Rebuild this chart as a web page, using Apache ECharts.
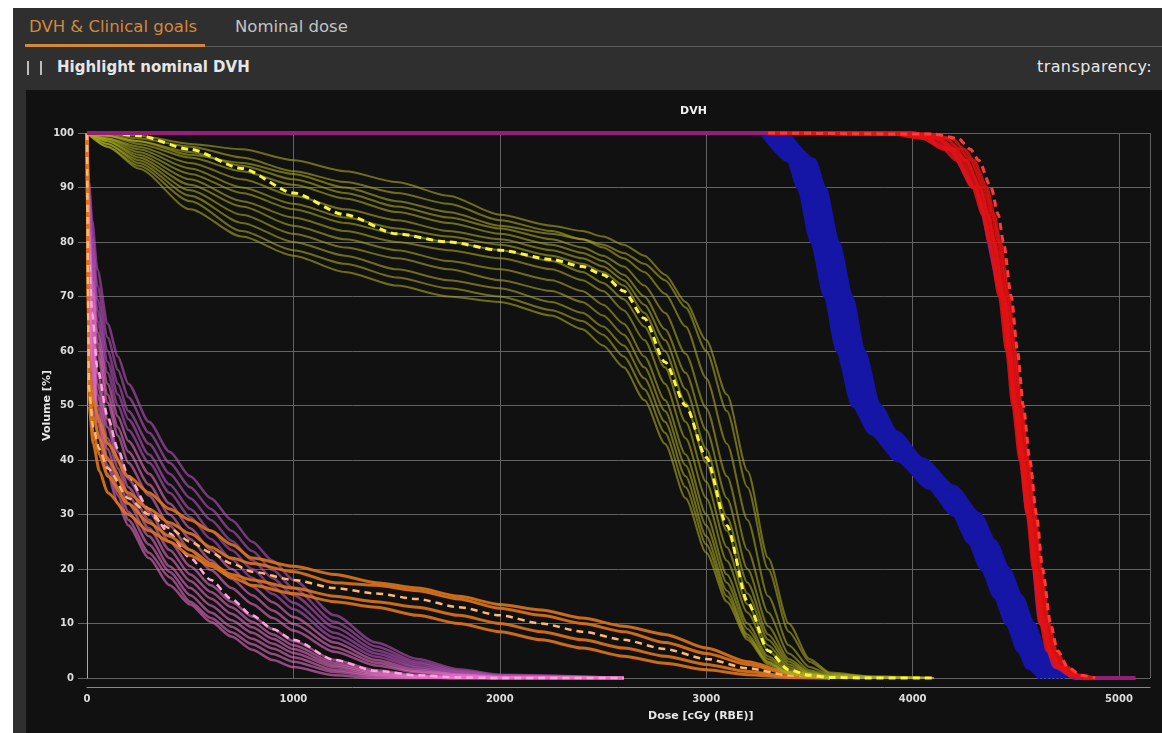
<!DOCTYPE html>
<html>
<head>
<meta charset="utf-8">
<script src="https://cdn.jsdelivr.net/npm/echarts/dist/echarts.min.js"></script>
<style>
  html, body { margin:0; padding:0; width:1162px; height:733px; background:#ffffff; overflow:hidden; font-family:"DejaVu Sans", sans-serif; }
  .abs { position:absolute; white-space:nowrap; }
</style>
</head>
<body>
<div class="abs" style="left:13px;top:8px;width:1149px;height:725px;background:#2f2f2f;"></div>
<div class="abs" style="left:29px;top:17px;color:#d4893a;font-size:16.5px;">DVH &amp; Clinical goals</div>
<div class="abs" style="left:25px;top:44px;width:180px;height:3px;background:#d4893a;"></div>
<div class="abs" style="left:205px;top:46px;width:957px;height:1px;background:#5c5c5c;"></div>
<div class="abs" style="left:235px;top:17px;color:#c4c4c4;font-size:16.5px;">Nominal dose</div>
<div class="abs" style="left:27px;top:61px;width:11px;height:14px;border-left:2px solid #bdbdbd;border-right:2px solid #bdbdbd;"></div>
<div class="abs" style="left:57px;top:58px;color:#e6e6e6;font-size:15px;font-weight:bold;">Highlight nominal DVH</div>
<div class="abs" style="left:1037px;top:57px;color:#e6e6e6;font-size:16px;letter-spacing:0.4px;">transparency:</div>
<div id="chart" class="abs" style="left:26px;top:90px;width:1136px;height:643px;background:#111111;"></div>
<script>
// ---------------- DATA ----------------
const xTicks = [0, 1000, 2000, 3000, 4000, 5000];
const yTicks = [0, 10, 20, 30, 40, 50, 60, 70, 80, 90, 100];

// Pink structure (dose grid in cGy, volumes in %)
const pinkDose = [0, 10, 25, 50, 100, 150, 200, 300, 400, 500, 600, 700, 800, 900, 1000, 1200, 1400, 1600, 1800, 2000, 2600];
const pinkCurves = [
  [100, 91, 84, 75, 65, 59, 54, 47, 41.5, 37, 33, 29, 25, 21.5, 18, 11.5, 6.5, 3.5, 1.6, 0.6, 0],
  [100, 89, 81, 72, 62.5, 56.5, 51.5, 45, 39.5, 35, 31, 27, 23.3, 19.8, 16.5, 10.3, 5.8, 3, 1.3, 0.5, 0],
  [100, 87, 79, 69.5, 60, 54, 49, 43, 37.5, 33, 29, 25.2, 21.6, 18.3, 15.2, 9.3, 5.1, 2.6, 1.1, 0.4, 0],
  [100, 86, 77, 67.5, 58, 52, 47.5, 41, 35.5, 31, 27, 23.5, 20, 16.8, 13.8, 8.3, 4.5, 2.2, 0.9, 0.3, 0],
  [100, 84, 75, 65.5, 56, 50, 45.5, 39.5, 34, 29.5, 25.5, 21.8, 18.4, 15.4, 12.6, 7.4, 3.9, 1.9, 0.7, 0.2, 0],
  [100, 82, 73, 63.5, 54, 48, 43.5, 37.5, 32, 27.5, 23.5, 20, 16.8, 13.9, 11.2, 6.5, 3.3, 1.5, 0.6, 0.2, 0],
  [100, 80, 71, 61.5, 52, 46, 41.5, 35.5, 30, 25.5, 21.6, 18.2, 15.2, 12.4, 9.9, 5.6, 2.8, 1.2, 0.5, 0.1, 0],
  [100, 78, 69, 59.5, 50.5, 44.5, 39.5, 33.5, 28, 23.5, 19.8, 16.5, 13.6, 11, 8.7, 4.8, 2.3, 1, 0.4, 0.1, 0],
  [100, 77, 66, 56, 47.5, 41.5, 36.5, 30.5, 25, 20.5, 17, 14, 11.3, 9, 6.8, 3.3, 1.4, 0.5, 0.2, 0, 0],
  [100, 75, 64, 54, 46, 40, 35, 29, 23.5, 19, 15.8, 13, 10.3, 8, 6, 2.8, 1.1, 0.4, 0.1, 0, 0],
  [100, 73, 62, 52, 44, 38.5, 33.5, 27.5, 22, 17.8, 14.6, 11.8, 9.3, 7.2, 5.3, 2.4, 0.9, 0.3, 0.1, 0, 0],
  [100, 71, 60, 50, 42, 36.5, 32, 26, 20.5, 16.5, 13.3, 10.6, 8.3, 6.3, 4.6, 2, 0.7, 0.2, 0, 0, 0],
  [100, 69, 58, 48.5, 40.5, 35, 30.5, 24.5, 19.5, 15.2, 12, 9.4, 7.2, 5.4, 3.8, 1.5, 0.5, 0.1, 0, 0, 0],
  [100, 68, 56, 47, 39, 33.5, 29, 23, 18.5, 14, 11, 8.4, 6.2, 4.4, 3, 1.1, 0.3, 0.1, 0, 0, 0],
  [100, 66, 54, 45, 37.5, 32, 28, 22, 17, 13.5, 10.3, 7.6, 5.2, 3.3, 2, 0.5, 0, 0, 0, 0, 0]
];
const pinkNominal = [100, 77, 67, 57, 48, 42, 37, 31, 26.5, 22, 18, 14.5, 11.5, 9, 7, 3.3, 1.3, 0.5, 0.1, 0, 0];

// Orange structure
const orangeDose = [0, 10, 30, 60, 100, 200, 300, 400, 500, 600, 700, 800, 1000, 1200, 1400, 1600, 1800, 2000, 2200, 2400, 2600, 2800, 3000, 3200, 3400, 3600];
const orangeCurves = [
  [100, 56, 51, 47, 43, 37, 34, 31, 29, 27, 24.5, 22, 20.5, 19, 17.5, 16.5, 15, 13.5, 12.5, 11, 9.5, 8, 5.5, 3, 1, 0],
  [100, 54, 48, 44, 40, 34, 31, 28.5, 26.5, 24, 22, 21, 19.5, 17.5, 17, 16, 14.5, 12.8, 11.5, 10, 8.5, 6.5, 4.5, 2.5, 0.8, 0],
  [100, 52, 45, 41, 37, 32, 28.5, 26, 23.5, 21, 19, 18, 16.5, 15, 14, 13, 11.5, 10, 8.5, 7, 5.5, 4, 2.5, 1.2, 0.3, 0],
  [100, 50, 43, 38, 34, 30, 27, 25, 22.5, 20.5, 18.5, 17, 15.5, 14, 13, 11.5, 10, 8.5, 7, 5.5, 4, 2.7, 1.5, 0.6, 0.1, 0]
];
const orangeNominal = [100, 53, 46, 42, 38.5, 33, 30, 27.5, 25, 23, 21, 19.5, 18, 16.5, 15.5, 14.5, 13, 11.5, 10, 8.5, 7, 5.3, 3.5, 1.8, 0.5, 0];

// Yellow structure
const yellowDose = [0, 100, 250, 500, 750, 1000, 1250, 1500, 1750, 2000, 2250, 2400, 2500, 2600, 2700, 2800, 2900, 3000, 3100, 3200, 3300, 3400, 3500, 3600, 3800, 4100];
const yellowCurves = [
  [100, 100, 99.5, 98, 97, 95, 93, 91, 88.5, 85, 83, 82, 81, 79.5, 77.5, 74, 69, 62, 52, 38, 22, 10, 3.5, 1, 0.3, 0],
  [100, 99.8, 99, 97.5, 95.5, 93, 91, 89, 87, 84, 82, 80.5, 79, 77, 74.5, 70.5, 64.5, 55, 43, 29, 15, 6, 2, 0.6, 0.2, 0],
  [100, 99.5, 98.5, 96.5, 94, 91.5, 89, 86.5, 84.5, 82.5, 80.5, 79, 77.5, 75.5, 72, 67, 59.5, 49.5, 37, 23.5, 12, 4.5, 1.4, 0.4, 0.1, 0],
  [100, 99.5, 98, 95.5, 93, 90.5, 88, 85.5, 83.5, 81.5, 79.5, 78, 76.5, 74, 70, 64, 56, 45.5, 33, 20, 9.5, 3.5, 1.1, 0.3, 0.1, 0],
  [100, 99, 97.5, 94.5, 91.5, 88.5, 86, 84, 82, 80.5, 78.5, 77, 75.5, 73, 68.5, 62, 53, 42, 29.5, 17.5, 8, 3, 0.9, 0.3, 0, 0],
  [100, 99, 97, 93.5, 90, 87, 84.5, 82.5, 81, 79.5, 77.5, 76, 74.5, 72, 67, 60, 50.5, 39.5, 27, 15.5, 7, 2.5, 0.8, 0.2, 0, 0],
  [100, 98.8, 96.5, 92.5, 89, 86, 83.5, 81.5, 80, 78.5, 76.5, 74.5, 72.5, 69.5, 64.5, 57, 47, 36, 24, 13.5, 6, 2, 0.6, 0.2, 0, 0],
  [100, 98.5, 96, 91.5, 87.5, 84.5, 82, 80, 78.5, 77, 75, 73, 71, 67.5, 62, 54, 44, 33, 21.5, 12, 5, 1.6, 0.5, 0.1, 0, 0],
  [100, 98.5, 95.5, 90.5, 86.5, 83, 80.5, 78.5, 76.5, 75, 73, 71, 68.5, 65, 59, 51, 41, 30, 19, 10, 4, 1.3, 0.4, 0.1, 0, 0],
  [100, 98, 95, 89.5, 85, 81.5, 79, 77, 75, 73, 71, 69, 66.5, 63, 57, 49, 39, 28, 17.5, 9, 3.5, 1.1, 0.3, 0.1, 0, 0],
  [100, 98, 94.5, 88.5, 83.5, 80, 77.5, 75, 73, 71.5, 69, 67, 64.5, 61, 55, 47, 37, 26, 16, 8, 3, 0.9, 0.3, 0.1, 0, 0],
  [100, 97.5, 94, 87.5, 82, 78.5, 76, 73.5, 71.5, 70, 67.5, 65.5, 63, 59, 53, 45, 35, 24.5, 15, 7.5, 2.8, 0.8, 0.2, 0, 0, 0],
  [100, 97.5, 93.5, 86, 81, 77.5, 74.5, 72, 70, 69, 66.5, 64, 61, 57, 51, 43, 33, 23, 14, 7, 2.5, 0.8, 0.2, 0, 0, 0],
  [100, 99.5, 98.5, 96, 94.5, 92.5, 90, 87.5, 85.5, 83, 81.5, 80.5, 79.5, 78, 76, 73, 68, 60, 49, 35, 20, 8.5, 3, 0.8, 0.2, 0]
];
const yellowNominal = [100, 100, 99.5, 97, 93.5, 89, 85, 81.5, 80, 78.5, 76.8, 75.5, 74, 71, 66, 58, 50, 40.5, 28, 14, 5, 1.5, 0.5, 0.1, 0, 0];

// Blue structure: dose (cGy) reached at each volume level
const blueLevels = [100, 95, 90, 80, 70, 60, 50, 45, 40, 35, 30, 25, 20, 15, 10, 5, 2, 0];
const blueCurves = [
  [3270, 3400, 3450, 3515, 3580, 3640, 3715, 3800, 3930, 4080, 4200, 4276, 4340, 4402, 4460, 4518, 4560, 4620],
  [3290, 3420, 3470, 3535, 3600, 3660, 3735, 3820, 3950, 4100, 4220, 4296, 4360, 4422, 4480, 4538, 4580, 4640],
  [3310, 3440, 3490, 3555, 3620, 3680, 3755, 3840, 3970, 4120, 4240, 4316, 4380, 4442, 4500, 4558, 4600, 4660],
  [3330, 3460, 3510, 3575, 3640, 3700, 3775, 3860, 3990, 4140, 4260, 4336, 4400, 4462, 4520, 4578, 4620, 4680],
  [3350, 3480, 3530, 3595, 3660, 3720, 3795, 3880, 4010, 4160, 4280, 4356, 4420, 4482, 4540, 4598, 4640, 4700],
  [3370, 3500, 3550, 3615, 3680, 3740, 3815, 3900, 4030, 4180, 4300, 4376, 4440, 4502, 4560, 4618, 4660, 4720],
  [3390, 3520, 3570, 3635, 3700, 3760, 3835, 3920, 4050, 4200, 4320, 4396, 4460, 4522, 4580, 4638, 4680, 4740]
];

// Purple structure
const purpleLevels = [100, 100, 97, 90, 70, 50, 30, 10, 2, 0, 0];
const purpleDose = [0, 4000, 4180, 4300, 4440, 4500, 4560, 4620, 4690, 4790, 5080];

// Red structure: dose (cGy) reached at each volume level
const redLevels = [100, 99.8, 99, 97, 95, 90, 85, 80, 70, 60, 50, 40, 30, 20, 10, 5, 2, 0.5, 0];
const redCurves = [
  [3300, 3900, 4050, 4150, 4210, 4290, 4340, 4370, 4420, 4455, 4485, 4520, 4555, 4585, 4620, 4650, 4700, 4770, 4840],
  [3300, 3950, 4100, 4190, 4240, 4310, 4355, 4390, 4435, 4468, 4498, 4532, 4566, 4596, 4632, 4664, 4712, 4780, 4850],
  [3300, 4000, 4130, 4210, 4260, 4330, 4370, 4400, 4445, 4478, 4508, 4542, 4575, 4605, 4642, 4675, 4722, 4790, 4860],
  [3300, 4050, 4160, 4230, 4280, 4345, 4385, 4415, 4455, 4488, 4518, 4552, 4585, 4615, 4652, 4686, 4735, 4800, 4870],
  [3300, 3980, 4120, 4200, 4255, 4325, 4365, 4395, 4440, 4472, 4502, 4537, 4570, 4600, 4637, 4670, 4718, 4785, 4855],
  [3300, 4080, 4190, 4250, 4295, 4360, 4395, 4425, 4465, 4497, 4527, 4560, 4593, 4623, 4660, 4695, 4745, 4810, 4880],
  [3300, 3920, 4070, 4170, 4225, 4300, 4345, 4380, 4428, 4462, 4492, 4526, 4560, 4590, 4626, 4658, 4706, 4775, 4845]
];
const redNominal = [3300, 4100, 4220, 4280, 4320, 4380, 4415, 4440, 4478, 4508, 4536, 4568, 4600, 4630, 4668, 4702, 4752, 4815, 4885];

// ---------------- BUILD ----------------
const series = [];
function byDose(doses, vols) { return doses.map((d, i) => [d, vols[i]]); }
function byLevel(doses, levels) { return doses.map((d, i) => [d, levels[i]]); }
function addLine(pts, color, width, dashed, z) {
  series.push({
    type: 'line', data: pts, symbol: 'none', showSymbol: false, silent: true,
    smooth: 0.25, smoothMonotone: 'x', clip: false, z: z,
    lineStyle: { color: color, width: width, type: dashed ? [7, 5] : 'solid', cap: 'butt', join: 'round' }
  });
}
pinkCurves.forEach((c, i) => addLine(byDose(pinkDose, c), i < 5 ? 'rgba(175,80,180,0.65)' : 'rgba(232,112,200,0.6)', 2.5, false, 2));
addLine(byDose(pinkDose, pinkNominal), '#ffa6e0', 2.5, true, 3);
orangeCurves.forEach(c => addLine(byDose(orangeDose, c), 'rgba(222,118,28,0.9)', 3, false, 4));
addLine(byDose(orangeDose, orangeNominal), '#ffb870', 2.5, true, 5);
yellowCurves.forEach(c => addLine(byDose(yellowDose, c), 'rgba(168,168,32,0.62)', 2, false, 6));
addLine(byDose(yellowDose, yellowNominal), '#f6f640', 3, true, 7);
blueCurves.forEach(c => addLine(byLevel(c, blueLevels), '#1515a6', 5, false, 8));
addLine(byLevel(purpleDose, purpleLevels), '#951f78', 4, false, 9);
redCurves.forEach(c => addLine(byLevel(c, redLevels), 'rgba(228,18,18,0.85)', 3, false, 10));
addLine(byLevel(redNominal, redLevels), '#ff3a3a', 3, true, 11);

const FONT = '"DejaVu Sans", sans-serif';
const labelStyle = { color: '#dcdcdc', fontSize: 10, fontWeight: 'bold', fontFamily: FONT };
const chart = echarts.init(document.getElementById('chart'), null, { renderer: 'canvas' });
chart.setOption({
  backgroundColor: '#111111',
  animation: false,
  title: { text: 'DVH', left: 649, top: 11, textStyle: { color: '#f0f0f0', fontSize: 11, fontWeight: 'bold', fontFamily: FONT } },
  grid: { left: 61, top: 43, right: 12, bottom: 55, containLabel: false, outerBoundsMode: 'none' },
  xAxis: {
    type: 'value', min: 0, max: 5150, interval: 1000, offset: 9,
    axisLine: { show: true, onZero: false, lineStyle: { color: '#8a8a8a', width: 1 } },
    axisTick: { show: false },
    axisLabel: Object.assign({ margin: 7, showMaxLabel: false,
      formatter: v => (xTicks.indexOf(v) >= 0 ? String(v) : '') }, labelStyle),
    splitLine: { show: true, lineStyle: { color: '#626262', width: 1 } }
  },
  yAxis: {
    type: 'value', min: 0, max: 100, interval: 10,
    name: 'Volume [%]', nameLocation: 'middle', nameGap: 34, nameRotate: 90, nameMoveOverlap: false,
    nameTextStyle: { color: '#e6e6e6', fontSize: 11, fontWeight: 'bold', fontFamily: FONT },
    axisLine: { show: true, lineStyle: { color: '#a8a8a8', width: 1 } },
    axisTick: { show: true, length: 9, lineStyle: { color: '#626262' } },
    axisLabel: Object.assign({ margin: 13, formatter: v => (yTicks.indexOf(v) >= 0 ? String(v) : '') }, labelStyle),
    splitLine: { show: true, lineStyle: { color: '#626262', width: 1 } }
  },
  graphic: [{
    type: 'text', left: 622, top: 621,
    style: { text: 'Dose [cGy (RBE)]', fill: '#e6e6e6', fontSize: 11, fontWeight: 'bold', fontFamily: FONT }
  }],
  series: series
});
</script>
</body>
</html>
